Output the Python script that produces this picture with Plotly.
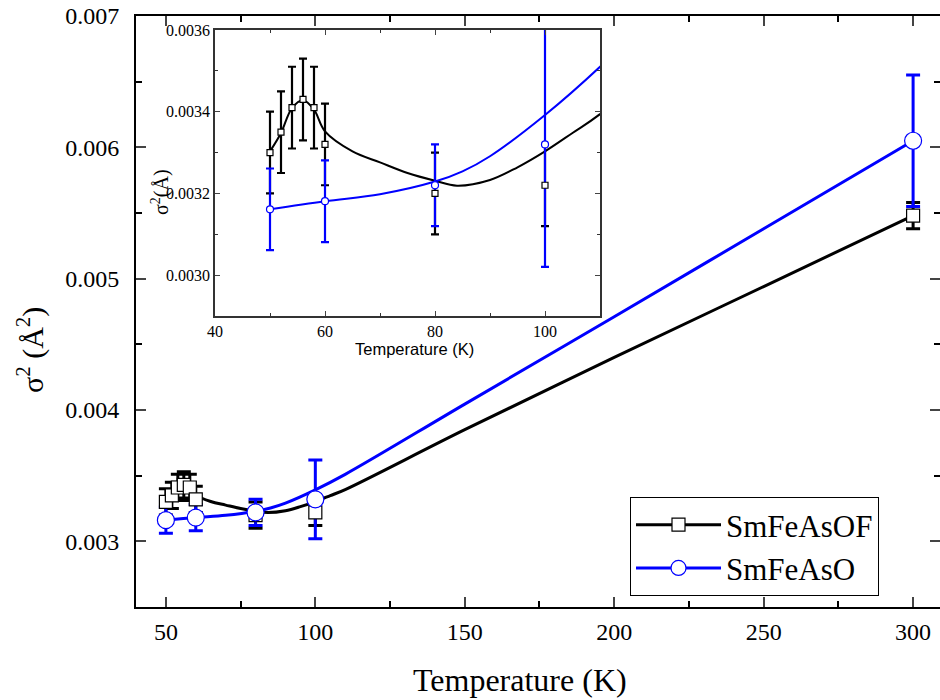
import plotly.graph_objects as go

# ---- data ----
T_OF = [50, 52, 54, 56, 58, 60, 80, 100, 300]
sig_OF = [0.00330, 0.00335, 0.00341, 0.00343, 0.00341, 0.00332, 0.00320, 0.00322, 0.00548]
err_OF = [0.0001, 0.0001, 0.0001, 0.0001, 0.0001, 0.0001, 0.0001, 0.0001, 0.0001]

T_O = [50, 60, 80, 100, 300]
sig_O = [0.003161, 0.003181, 0.00322, 0.00332, 0.00605]
err_O = [0.0001, 0.0001, 0.0001, 0.0003, 0.0005]

# smoothed guide curves as drawn in the reference
curveT_OF = [50, 52, 54, 56, 58, 60, 65, 70, 75, 80, 84, 90, 95, 100, 105, 110, 150, 200, 250, 300]
curve_OF = [0.003303, 0.003348, 0.003409, 0.003428, 0.003405, 0.003352, 0.003303, 0.003276,
            0.00325, 0.003231, 0.003219, 0.003233, 0.003264, 0.003303, 0.003348, 0.003394,
            0.00385, 0.00440, 0.00494, 0.00548]
curveT_O = [50, 60, 70, 80, 85, 90, 100, 110, 150, 200, 250, 300]
curve_O = [0.003161, 0.003181, 0.003198, 0.003229, 0.003254, 0.003291, 0.003392, 0.00351,
           0.004045, 0.00471, 0.00538, 0.00605]

main_xticks = [50, 100, 150, 200, 250, 300]
main_yticks = [0.003, 0.004, 0.005, 0.006, 0.007]
inset_xticks = [40, 60, 80, 100]
inset_yticks = [0.0030, 0.0032, 0.0034, 0.0036]

BLACK = "#000000"
BLUE = "#0000ff"
SERIF = "Liberation Serif"

fig = go.Figure()

def add_series(xa, ya, lw, ew, cap, msq, mci):
    fig.add_trace(go.Scatter(x=curveT_OF, y=curve_OF, mode="lines", line=dict(color=BLACK, width=lw, shape="spline", smoothing=1),
                             xaxis=xa, yaxis=ya, showlegend=False, hoverinfo="skip"))
    fig.add_trace(go.Scatter(x=curveT_O, y=curve_O, mode="lines", line=dict(color=BLUE, width=lw, shape="spline", smoothing=1),
                             xaxis=xa, yaxis=ya, showlegend=False, hoverinfo="skip"))
    fig.add_trace(go.Scatter(x=T_OF, y=sig_OF, mode="markers", marker=dict(size=1, opacity=0),
                             error_y=dict(type="data", array=err_OF, color=BLACK, thickness=ew, width=cap),
                             xaxis=xa, yaxis=ya, showlegend=False, hoverinfo="skip"))
    fig.add_trace(go.Scatter(x=T_O, y=sig_O, mode="markers", marker=dict(size=1, opacity=0),
                             error_y=dict(type="data", array=err_O, color=BLUE, thickness=ew, width=cap),
                             xaxis=xa, yaxis=ya, showlegend=False, hoverinfo="skip"))
    fig.add_trace(go.Scatter(x=T_OF, y=sig_OF, mode="markers",
                             marker=dict(symbol="square", size=msq, color="white", line=dict(color=BLACK, width=1.2)),
                             xaxis=xa, yaxis=ya, showlegend=False))
    fig.add_trace(go.Scatter(x=T_O, y=sig_O, mode="markers",
                             marker=dict(symbol="circle", size=mci, color="white", line=dict(color=BLUE, width=1.2)),
                             xaxis=xa, yaxis=ya, showlegend=False))

add_series("x", "y", 3, 3, 7, 13, 17)
add_series("x2", "y2", 2, 2.2, 4, 6, 7)

fig.add_trace(go.Scatter(x=[None], y=[None], mode="lines+markers", name="SmFeAsOF",
                         line=dict(color=BLACK, width=3),
                         marker=dict(symbol="square", size=13, color="white", line=dict(color=BLACK, width=1.2))))
fig.add_trace(go.Scatter(x=[None], y=[None], mode="lines+markers", name="SmFeAsO",
                         line=dict(color=BLUE, width=3),
                         marker=dict(symbol="circle", size=15, color="white", line=dict(color=BLUE, width=1.2))))

L, R, T, B = 136, 0, 16, 93
W, H = 940, 700
pw, ph = W - L - R, H - T - B

def px_x(p):
    return (p - L) / pw

def px_y(p):
    return (H - B - p) / ph

fig.update_layout(
    template="none",
    width=W, height=H,
    margin=dict(l=L, r=R, t=T, b=B),
    paper_bgcolor="white", plot_bgcolor="white",
    font=dict(family=SERIF, color="black"),
    xaxis=dict(range=[40, 309], tickvals=main_xticks, ticks="inside", ticklen=10, tickwidth=2,
               showline=True, linewidth=2, linecolor="black", mirror="ticks", showgrid=False, zeroline=False,
               tickfont=dict(family=SERIF, size=24), ticklabelstandoff=2,
               minor=dict(ticks="inside", ticklen=6, tickwidth=1.5, dtick=25, tick0=0, tickcolor="black")),
    yaxis=dict(range=[0.0025, 0.007], tickvals=main_yticks, tickformat=".3f", ticks="inside", ticklen=10, tickwidth=2,
               showline=True, linewidth=2, linecolor="black", mirror="ticks", showgrid=False, zeroline=False,
               tickfont=dict(family=SERIF, size=24), ticklabelstandoff=10,
               minor=dict(ticks="inside", ticklen=6, tickwidth=1.5, dtick=0.0005, tick0=0, tickcolor="black")),
    xaxis2=dict(domain=[px_x(215), px_x(600)], anchor="y2", range=[40, 110], tickvals=inset_xticks,
                ticks="inside", ticklen=5, tickwidth=1, showline=True, linewidth=1.5, linecolor="#333333",
                mirror="ticks", showgrid=False, zeroline=False, tickfont=dict(family=SERIF, size=16),
                minor=dict(ticks="inside", ticklen=3, tickwidth=1, dtick=10, tick0=0, tickcolor="#333333")),
    yaxis2=dict(domain=[px_y(316), px_y(30)], anchor="x2", range=[0.0029, 0.0036], tickvals=inset_yticks,
                tickformat=".4f", ticks="inside", ticklen=5, tickwidth=1, showline=True, linewidth=1.5,
                linecolor="#333333", mirror="ticks", showgrid=False, zeroline=False,
                tickfont=dict(family=SERIF, size=16),
                minor=dict(ticks="inside", ticklen=3, tickwidth=1, dtick=0.0001, tick0=0, tickcolor="#333333")),
    legend=dict(x=px_x(630), y=px_y(497), xanchor="left", yanchor="top",
                bordercolor="black", borderwidth=1, bgcolor="white",
                font=dict(family=SERIF, size=31), itemwidth=85, tracegroupgap=0),
    showlegend=True,
    annotations=[
        dict(text="Temperature (K)", xref="paper", yref="paper", x=px_x(520), y=px_y(680),
             xanchor="center", yanchor="middle", showarrow=False, font=dict(family=SERIF, size=32)),
        dict(text="σ<sup>2</sup> (Å<sup>2</sup>)", xref="paper", yref="paper", x=px_x(30), y=px_y(350),
             xanchor="center", yanchor="middle", textangle=-90, showarrow=False, font=dict(family=SERIF, size=30)),
        dict(text="Temperature (K)", xref="paper", yref="paper", x=px_x(414), y=px_y(349),
             xanchor="center", yanchor="middle", showarrow=False, font=dict(family="Liberation Sans", size=16.5)),
        dict(text="σ<sup>2</sup>(Å)", xref="paper", yref="paper", x=px_x(160), y=px_y(192),
             xanchor="center", yanchor="middle", textangle=-90, showarrow=False, font=dict(family=SERIF, size=20)),
    ],
)

fig.write_html("out.html", config={"displayModeBar": False},
               post_script="document.body.style.margin='0';document.body.style.padding='0';")
